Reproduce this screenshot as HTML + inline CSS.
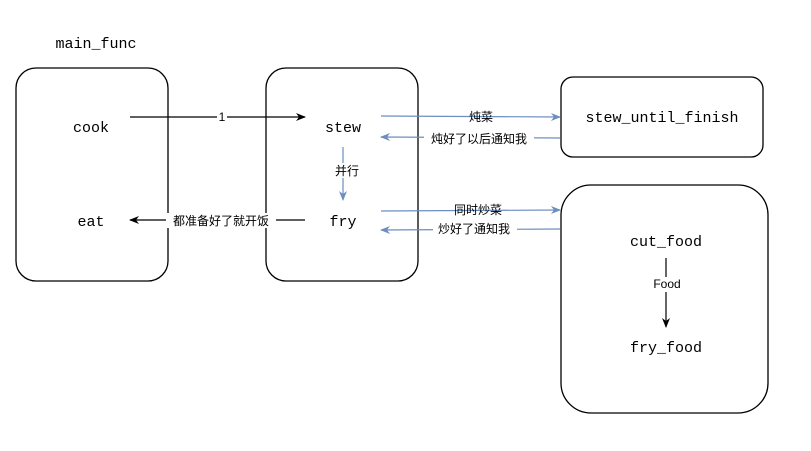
<!DOCTYPE html>
<html><head><meta charset="utf-8"><style>body{margin:0;background:#fff}svg{display:block}</style></head><body>
<svg width="811" height="451" viewBox="0 0 811 451" xmlns="http://www.w3.org/2000/svg">
<defs>
<marker id="ab" markerWidth="10" markerHeight="10" refX="9" refY="5" orient="auto" markerUnits="userSpaceOnUse"><path d="M0,1 L10,5 L0,9 L3,5 Z" fill="#000"/></marker>
<marker id="au" markerWidth="10" markerHeight="10" refX="9" refY="5" orient="auto" markerUnits="userSpaceOnUse"><path d="M0,1 L10,5 L0,9 L3,5 Z" fill="#6c8ebf"/></marker>
</defs>
<g fill="none" stroke="#000" stroke-width="1.3">
<rect x="16" y="68" width="152" height="213" rx="20"/>
<rect x="266" y="68" width="152" height="213" rx="20"/>
<rect x="561" y="77" width="202" height="80" rx="12"/>
<rect x="561" y="185" width="207" height="228" rx="30"/>
</g>
<g font-family="'Liberation Mono', monospace" font-size="15" fill="#000" text-anchor="middle">
<text x="96" y="48">main_func</text>
<text x="91" y="132">cook</text>
<text x="91" y="226">eat</text>
<text x="343" y="132">stew</text>
<text x="343" y="226">fry</text>
<text x="662" y="122">stew_until_finish</text>
<text x="666" y="246">cut_food</text>
<text x="666" y="352">fry_food</text>
</g>
<g stroke-width="1.2" fill="none">
<line x1="130" y1="117" x2="305" y2="117" stroke="#000" marker-end="url(#ab)"/>
<line x1="305" y1="220" x2="130" y2="220" stroke="#000" marker-end="url(#ab)"/>
<line x1="666" y1="258" x2="666" y2="327" stroke="#000" marker-end="url(#ab)"/>
<line x1="343" y1="147" x2="343" y2="200" stroke="#6c8ebf" marker-end="url(#au)"/>
<line x1="381" y1="116" x2="560" y2="117" stroke="#6c8ebf" marker-end="url(#au)"/>
<line x1="560" y1="138" x2="381" y2="137" stroke="#6c8ebf" marker-end="url(#au)"/>
<line x1="381" y1="211" x2="560" y2="210" stroke="#6c8ebf" marker-end="url(#au)"/>
<line x1="560" y1="229" x2="381" y2="230" stroke="#6c8ebf" marker-end="url(#au)"/>
</g>
<g font-family="'Liberation Sans','Noto Sans CJK SC',sans-serif" font-size="12" fill="#000" text-anchor="middle">
<rect x="217" y="110" width="10" height="14" fill="#fff"/><text x="222" y="121">1</text>
<rect x="166" y="213" width="110" height="15" fill="#fff"/><text x="221" y="225">都准备好了就开饭</text>
<rect x="332" y="163" width="28" height="15" fill="#fff"/><text x="347" y="175">并行</text>
<rect x="468" y="110" width="26" height="14" fill="#fff" opacity="0"/><text x="481" y="121">炖菜</text>
<rect x="424" y="131" width="110" height="15" fill="#fff"/><text x="479" y="143">炖好了以后通知我</text>
<rect x="450" y="203" width="56" height="14" fill="#fff" opacity="0"/><text x="478" y="214">同时炒菜</text>
<rect x="433" y="221" width="84" height="15" fill="#fff"/><text x="474" y="233">炒好了通知我</text>
<rect x="650" y="277" width="34" height="15" fill="#fff"/><text x="667" y="288">Food</text>
</g>
</svg>
</body></html>
